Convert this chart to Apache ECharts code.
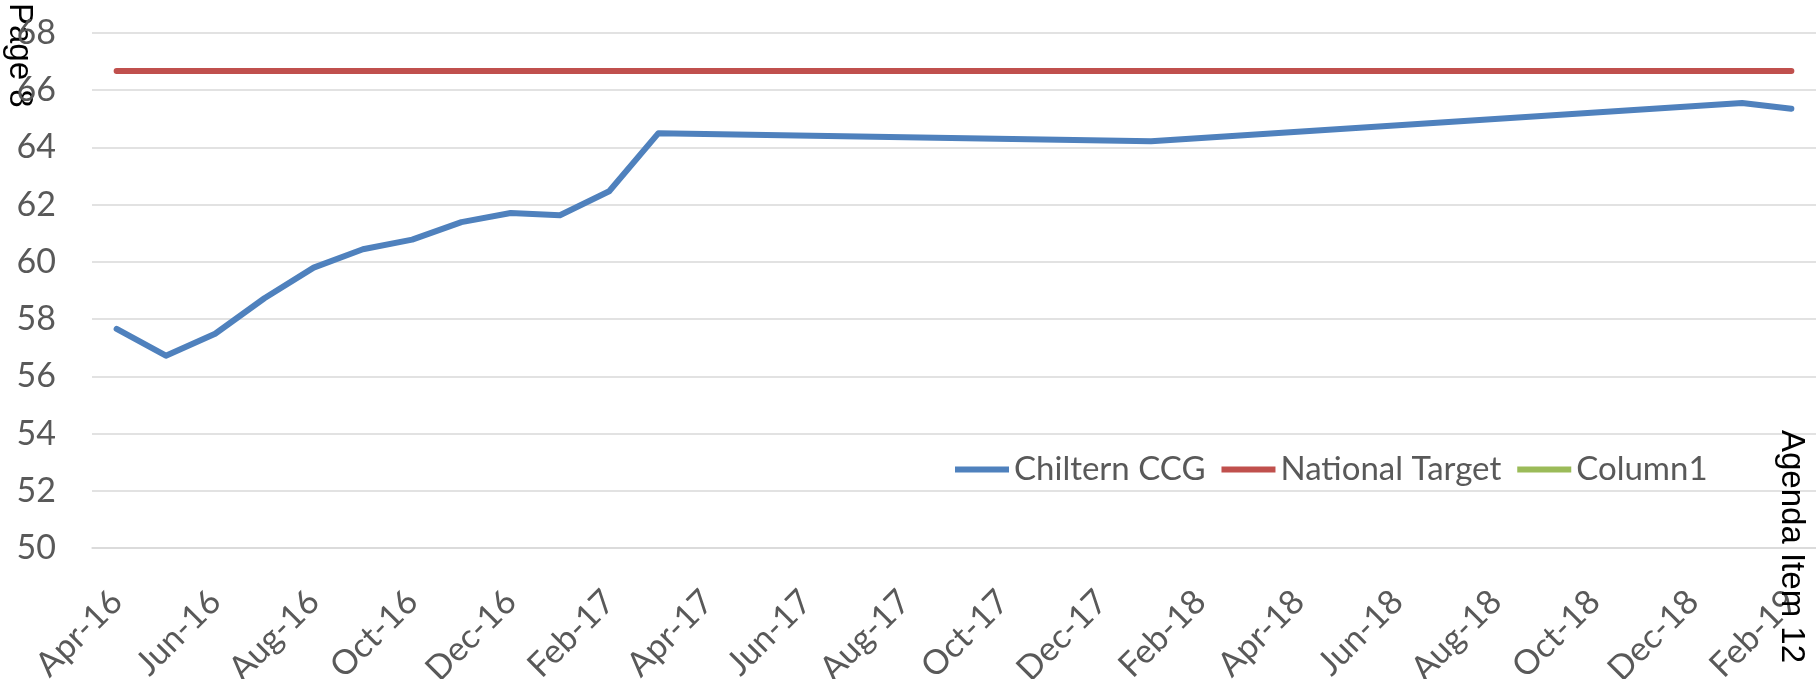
<!DOCTYPE html>
<html>
<head>
<meta charset="utf-8">
<script src="https://cdn.jsdelivr.net/npm/echarts@6/dist/echarts.min.js"></script>
<style>
  html, body { margin: 0; padding: 0; background: #fff; }
  #chart { width: 1816px; height: 679px; }
</style>
</head>
<body>
<div id="chart"></div>
<script>
// monthly categories, Apr-16 .. Feb-19
var months = ['Apr-16', 'May-16', 'Jun-16', 'Jul-16', 'Aug-16', 'Sep-16', 'Oct-16', 'Nov-16', 'Dec-16',
  'Jan-17', 'Feb-17', 'Mar-17', 'Apr-17', 'May-17', 'Jun-17', 'Jul-17', 'Aug-17', 'Sep-17', 'Oct-17',
  'Nov-17', 'Dec-17', 'Jan-18', 'Feb-18', 'Mar-18', 'Apr-18', 'May-18', 'Jun-18', 'Jul-18', 'Aug-18',
  'Sep-18', 'Oct-18', 'Nov-18', 'Dec-18', 'Jan-19', 'Feb-19']

// Chiltern CCG, gaps joined by a straight line
var chiltern = [57.66, 56.72, 57.49, 58.73, 59.8, 60.44, 60.78, 61.39, 61.71, 61.63, 62.47, 64.5,
  null, null, null, null, null, null, null, null, null,
  64.22,
  null, null, null, null, null, null, null, null, null, null, null,
  65.55, 65.35]

var nationalTarget = [66.67, 66.67, 66.67, 66.67, 66.67, 66.67, 66.67, 66.67, 66.67, 66.67, 66.67, 66.67,
  66.67, 66.67, 66.67, 66.67, 66.67, 66.67, 66.67, 66.67, 66.67, 66.67, 66.67, 66.67, 66.67, 66.67,
  66.67, 66.67, 66.67, 66.67, 66.67, 66.67, 66.67, 66.67, 66.67]

var column1 = []

var font = 'Lato'
var labelColor = '#595959'

var chart = echarts.init(document.getElementById('chart'))
chart.setOption({
  animation: false,
  backgroundColor: '#fff',
  grid: {
    left: 92,
    right: 0,
    top: 33,
    bottom: 131,
    containLabel: false,
    outerBoundsMode: 'none'
  },
  legend: {
    data: ['Chiltern CCG', 'National Target', 'Column1'],
    left: 950,
    top: 448,
    icon: 'rect',
    itemWidth: 54,
    itemHeight: 6,
    itemGap: 16,
    textStyle: {
      fontFamily: font,
      fontSize: 33,
      color: labelColor
    }
  },
  xAxis: {
    type: 'category',
    boundaryGap: true,
    data: months,
    axisLine: { show: true, lineStyle: { color: '#d9d9d9', width: 1.5 } },
    axisTick: { show: false },
    axisLabel: {
      interval: 1,
      rotate: 45,
      margin: 48,
      fontFamily: font,
      fontSize: 34,
      color: labelColor
    }
  },
  yAxis: {
    type: 'value',
    min: 50,
    max: 68,
    interval: 2,
    axisLine: { show: false },
    axisTick: { show: false },
    axisLabel: {
      margin: 36,
      fontFamily: font,
      fontSize: 34,
      color: labelColor
    },
    splitLine: { lineStyle: { color: '#d9d9d9', width: 1.5 } }
  },
  series: [
    {
      name: 'Chiltern CCG',
      type: 'line',
      data: chiltern,
      connectNulls: true,
      symbol: 'none',
      color: '#4f81bd',
      lineStyle: { width: 6, cap: 'round', join: 'round' }
    },
    {
      name: 'National Target',
      type: 'line',
      data: nationalTarget,
      symbol: 'none',
      color: '#c0504d',
      lineStyle: { width: 6, cap: 'round' }
    },
    {
      name: 'Column1',
      type: 'line',
      data: column1,
      symbol: 'none',
      color: '#9bbb59',
      lineStyle: { width: 6 }
    }
  ],
  graphic: [
    {
      type: 'text',
      x: 36,
      y: 3,
      rotation: -Math.PI / 2,
      style: {
        text: 'Page 8',
        font: '33px "Liberation Sans"',
        fill: '#000',
        textAlign: 'left',
        textVerticalAlign: 'top'
      }
    },
    {
      type: 'text',
      x: 1808,
      y: 430,
      rotation: -Math.PI / 2,
      z: 100,
      style: {
        text: 'Agenda Item 12',
        font: '33px "Liberation Sans"',
        fill: '#000',
        textAlign: 'left',
        textVerticalAlign: 'top'
      }
    }
  ]
})
</script>
</body>
</html>
